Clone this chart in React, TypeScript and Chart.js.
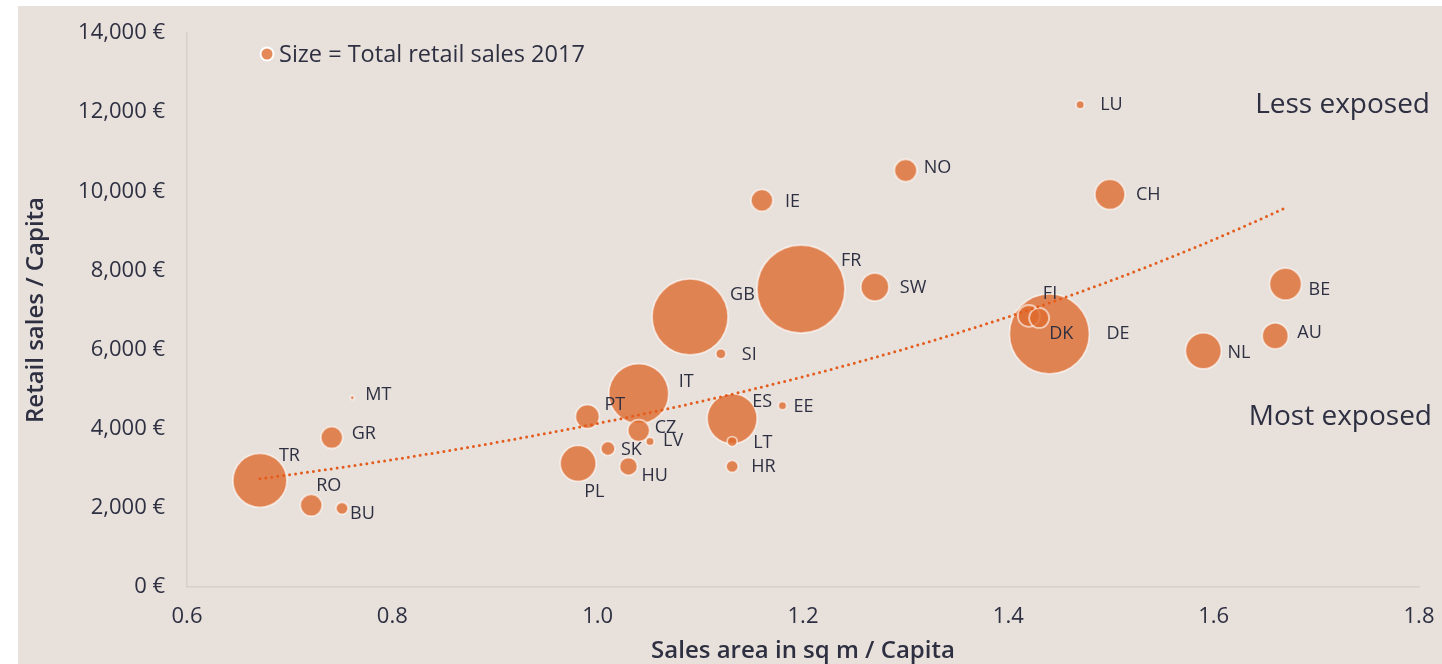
import React, { useEffect, useRef } from "react";
import { Chart, registerables } from "chart.js";

Chart.register(...registerables);

// ---- Data ----
const countries = ["TR", "RO", "BU", "GR", "MT", "PL", "PT", "IT", "CZ", "LV", "SK", "HU", "ES", "LT", "HR", "EE", "SI", "GB", "FR", "IE", "NO", "SW", "LU", "CH", "DE", "FI", "DK", "NL", "AU", "BE"];
const salesAreaPerCapita = [0.671, 0.721, 0.751, 0.741, 0.761, 0.981, 0.99, 1.04, 1.04, 1.051, 1.01, 1.03, 1.131, 1.131, 1.131, 1.18, 1.12, 1.09, 1.198, 1.16, 1.3, 1.27, 1.47, 1.499, 1.44, 1.42, 1.43, 1.59, 1.66, 1.67];
const retailSalesPerCapita = [2694, 2065, 1989, 3777, 4784, 3122, 4306, 4885, 3953, 3676, 3500, 3047, 4255, 3676, 3047, 4583, 5892, 6824, 7529, 9770, 10525, 7579, 12187, 9921, 6396, 6849, 6799, 5968, 6345, 7655];
// Total retail sales 2017 (bubble size, relative units)
const totalRetailSales = [219, 36, 11, 36, 1.2, 97, 43, 270, 36, 5, 15, 24, 188, 7.5, 11, 5, 7.5, 433, 581, 36, 38, 59, 5, 68, 480, 36, 30, 97, 51, 77];

const xTicks = [0.6, 0.8, 1.0, 1.2, 1.4, 1.6, 1.8];
const yMax = 14000;
const yStep = 2000;

const legendText = "Size = Total retail sales 2017";
const upperNote = "Less exposed";
const lowerNote = "Most exposed";
const xTitle = "Sales area in sq m / Capita";
const yTitle = "Retail sales / Capita";

// ---- Layout / style ----
const BG = "rgb(231,224,219)";
const BUBBLE = "rgba(222,108,48,0.8)";
const BUBBLE_BORDER = "rgba(255,255,255,0.6)";
const TREND = "rgb(228,92,28)";
const TEXT = "rgb(46,48,66)";
const AXIS = "rgb(214,208,203)";
const FONT = "'Open Sans', 'Noto Sans', sans-serif";
const RADIUS_SCALE = 1.826;

// label offsets (px) from bubble centre: [dx to text start, dy to text middle]
const labelOffsets: Record<string, [number, number]> = {
  TR: [19, -25], RO: [5, -19], BU: [8, 6], GR: [20, -4], MT: [13, -3],
  PL: [6, 28], PT: [17, -12], IT: [40, -12], CZ: [16, -3], LV: [13, -1],
  SK: [13, 1], HU: [13, 9], ES: [20, -17], LT: [21, 1], HR: [19, 0],
  EE: [11, 1], SI: [21, 1], GB: [40, -22], FR: [40, -28], IE: [23, 1],
  NO: [18, -3], SW: [25, 1], LU: [20, 0], CH: [26, 0], DE: [57, 0],
  FI: [14, -22], DK: [10, 16], NL: [24, 2], AU: [22, -3], BE: [23, 6],
};

// exponential trend (least squares on ln y), like a spreadsheet trendline
function exponentialTrend(xs: number[], ys: number[]) {
  const n = xs.length;
  const ly = ys.map((v) => Math.log(v));
  const mx = xs.reduce((a, b) => a + b, 0) / n;
  const my = ly.reduce((a, b) => a + b, 0) / n;
  let sxy = 0, sxx = 0;
  for (let i = 0; i < n; i++) {
    sxy += (xs[i] - mx) * (ly[i] - my);
    sxx += (xs[i] - mx) * (xs[i] - mx);
  }
  const b = sxy / sxx;
  const a = Math.exp(my - b * mx);
  const minX = Math.min(...xs);
  const maxX = Math.max(...xs);
  const pts: { x: number; y: number }[] = [];
  const steps = 80;
  for (let i = 0; i <= steps; i++) {
    const x = minX + ((maxX - minX) * i) / steps;
    pts.push({ x, y: a * Math.exp(b * x) });
  }
  return pts;
}

const annotationsPlugin = {
  id: "annotations",
  afterDatasetsDraw(chart: any) {
    const { ctx, chartArea } = chart;
    const meta = chart.getDatasetMeta(0);
    ctx.save();
    ctx.fillStyle = TEXT;
    ctx.textBaseline = "middle";
    ctx.textAlign = "left";
    ctx.font = `18px ${FONT}`;
    meta.data.forEach((el: any, i: number) => {
      const name = countries[i];
      const [dx, dy] = labelOffsets[name] || [10, 0];
      ctx.fillText(name, el.x + dx, el.y + dy);
    });

    // notes
    ctx.textAlign = "right";
    ctx.font = `28px ${FONT}`;
    ctx.fillText(upperNote, chartArea.right + 11, chartArea.top + 72);
    ctx.fillText(lowerNote, chartArea.right + 13, chartArea.top + 384);

    // legend
    const lx = chartArea.left + 80;
    const ly = chartArea.top + 21;
    ctx.beginPath();
    ctx.arc(lx, ly, 7.5, 0, Math.PI * 2);
    ctx.fillStyle = "#ffffff";
    ctx.fill();
    ctx.beginPath();
    ctx.arc(lx, ly, 5.5, 0, Math.PI * 2);
    ctx.fillStyle = BUBBLE;
    ctx.fill();
    ctx.fillStyle = TEXT;
    ctx.textAlign = "left";
    ctx.font = `23.5px ${FONT}`;
    ctx.fillText(legendText, lx + 12, ly + 1);
    ctx.restore();
  },
};

function BubbleChart() {
  const ref = useRef<HTMLCanvasElement | null>(null);
  useEffect(() => {
    if (!ref.current) return;
    const bubbles = countries.map((c, i) => ({
      x: salesAreaPerCapita[i],
      y: retailSalesPerCapita[i],
      r: Math.sqrt(totalRetailSales[i]) * RADIUS_SCALE,
    }));
    const trend = exponentialTrend(salesAreaPerCapita, retailSalesPerCapita);
    const chart = new Chart(ref.current, {
      type: "bubble",
      data: {
        datasets: [
          {
            label: "Countries",
            data: bubbles,
            backgroundColor: BUBBLE,
            borderColor: BUBBLE_BORDER,
            borderWidth: 1.8,
            order: 1,
          } as any,
          {
            type: "line",
            label: "Trend",
            data: trend,
            borderColor: TREND,
            borderWidth: 3,
            borderDash: [0, 6],
            borderCapStyle: "round",
            pointRadius: 0,
            fill: false,
            tension: 0,
            order: 0,
          } as any,
        ],
      },
      options: {
        responsive: false,
        animation: false,
        events: [],
        layout: { autoPadding: false, padding: { left: 0, right: 23, top: 27, bottom: 0 } },
        plugins: { legend: { display: false }, tooltip: { enabled: false } },
        scales: {
          x: {
            type: "linear",
            min: xTicks[0],
            max: xTicks[xTicks.length - 1],
            afterBuildTicks: (scale: any) => {
              scale.ticks = xTicks.map((v) => ({ value: v }));
            },
            afterFit: (scale: any) => {
              scale.height = 77;
              scale.paddingLeft = 0;
              scale.paddingRight = 0;
            },
            grid: { display: false, drawTicks: false },
            border: { display: true, color: AXIS, width: 1.5 },
            ticks: {
              color: TEXT,
              font: { family: FONT, size: 22 },
              padding: 17,
              callback: (v: any) => Number(v).toFixed(1),
            },
            title: {
              display: true,
              text: xTitle,
              color: TEXT,
              font: { family: FONT, size: 24, weight: 600 },
              padding: { top: 0, bottom: -2 },
            },
          },
          y: {
            type: "linear",
            min: 0,
            max: yMax,
            ticks: {
              stepSize: yStep,
              color: TEXT,
              font: { family: FONT, size: 22 },
              padding: 22,
              callback: (v: any) => Number(v).toLocaleString("en-US") + " €",
            },
            afterFit: (scale: any) => {
              scale.width = 169;
              scale.paddingTop = 0;
              scale.paddingBottom = 0;
            },
            grid: { display: false, drawTicks: false },
            border: { display: true, color: AXIS, width: 1.5 },
            title: {
              display: true,
              text: yTitle,
              color: TEXT,
              font: { family: FONT, size: 24, weight: 600 },
              padding: { top: 4, bottom: 0 },
            },
          },
        },
      },
      plugins: [annotationsPlugin],
    } as any);
    return () => chart.destroy();
  }, []);
  return <canvas ref={ref} width={1424} height={658} style={{ width: 1424, height: 658, display: "block" }} />;
}

export default function App() {
  return (
    <div style={{ position: "absolute", left: 0, top: 0, width: 1442, height: 664, background: "#ffffff", overflow: "hidden" }}>
      <div style={{ position: "absolute", left: 18, top: 6, width: 1424, height: 658, background: BG }}>
        <BubbleChart />
      </div>
    </div>
  );
}
